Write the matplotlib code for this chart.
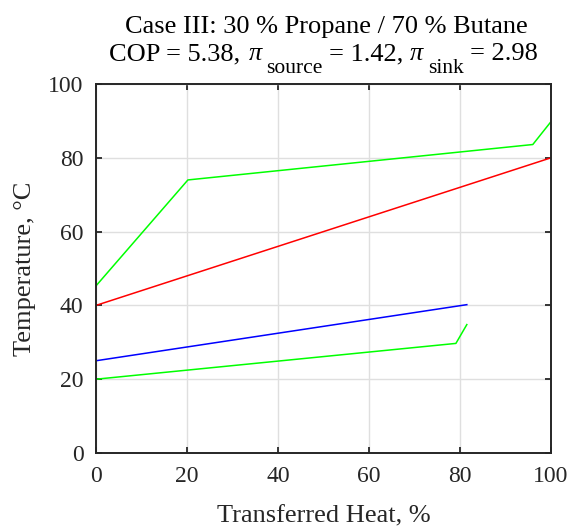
import matplotlib
matplotlib.use('Agg')
import matplotlib.pyplot as plt

plt.rcParams['font.family'] = ['Liberation Serif', 'DejaVu Serif']

# heat source / sink and working fluid temperature profiles
hot_fluid_x = [0, 20.2, 96.0, 100]
hot_fluid_y = [45.3, 74.0, 83.6, 89.8]
sink_x = [0, 100]
sink_y = [40, 80]
source_x = [0, 81.5]
source_y = [25, 40.2]
cold_fluid_x = [0, 79.1, 81.5]
cold_fluid_y = [20, 29.7, 34.8]

W, H = 575, 529
fig = plt.figure(figsize=(W / 100, H / 100), dpi=100)
ax = fig.add_axes([96 / W, 1 - 453 / H, 455 / W, 369 / H])

ax.plot(hot_fluid_x, hot_fluid_y, color='#00ff00', lw=1.1)
ax.plot(sink_x, sink_y, color='#ff0000', lw=1.1)
ax.plot(source_x, source_y, color='#0000ff', lw=1.1)
ax.plot(cold_fluid_x, cold_fluid_y, color='#00ff00', lw=1.1)

ax.set_xlim(0, 100)
ax.set_ylim(0, 100)
ax.set_xticks([0, 20, 40, 60, 80, 100])
ax.set_yticks([0, 20, 40, 60, 80, 100])
ax.grid(True, color='#dfdfdf', lw=1)
ax.set_axisbelow(True)
ax.tick_params(direction='in', length=4, width=1.3, labelsize=17, colors='#262626',
               top=True, right=True, pad=9)
for s in ax.spines.values():
    s.set_linewidth(1.4)
    s.set_color('#262626')

ax.set_xlabel('Transferred Heat, %', fontsize=19, color='#262626', labelpad=14)
ax.set_ylabel('Temperature, \u00b0C', fontsize=19, color='#262626', labelpad=9)

# title: first line plain, second line built piece by piece so the
# subscripts can sit lower and larger than mathtext would put them
fig.text(326 / W, 1 - 33 / H, 'Case III: 30 % Propane / 70 % Butane',
         fontsize=19, ha='center', va='baseline')

# (text, fontsize, italic, drop below baseline in px, gap before in px)
pieces = [
    ('COP = 5.38,', 19, False, 0, 0),
    ('\u03c0', 19, True, 0, 9),
    ('source', 15.5, False, 13, 4),
    ('= 1.42,', 19, False, 0, 6),
    ('\u03c0', 19, True, 0, 7),
    ('sink', 15.5, False, 13, 5),
    ('= 2.98', 19, False, 0, 6),
]
renderer = fig.canvas.get_renderer()
texts, widths = [], []
for txt, size, ital, drop, gap in pieces:
    t = fig.text(0, 0, txt, fontsize=size, ha='left', va='baseline',
                 fontstyle='italic' if ital else 'normal')
    texts.append(t)
    widths.append(t.get_window_extent(renderer).width)
total = sum(widths) + sum(p[4] for p in pieces)
x = 323.5 - total / 2
for t, w, (txt, size, ital, drop, gap) in zip(texts, widths, pieces):
    x += gap
    t.set_position((x / W, 1 - (60 + drop) / H))
    x += w

fig.savefig('out.png', dpi=100)
